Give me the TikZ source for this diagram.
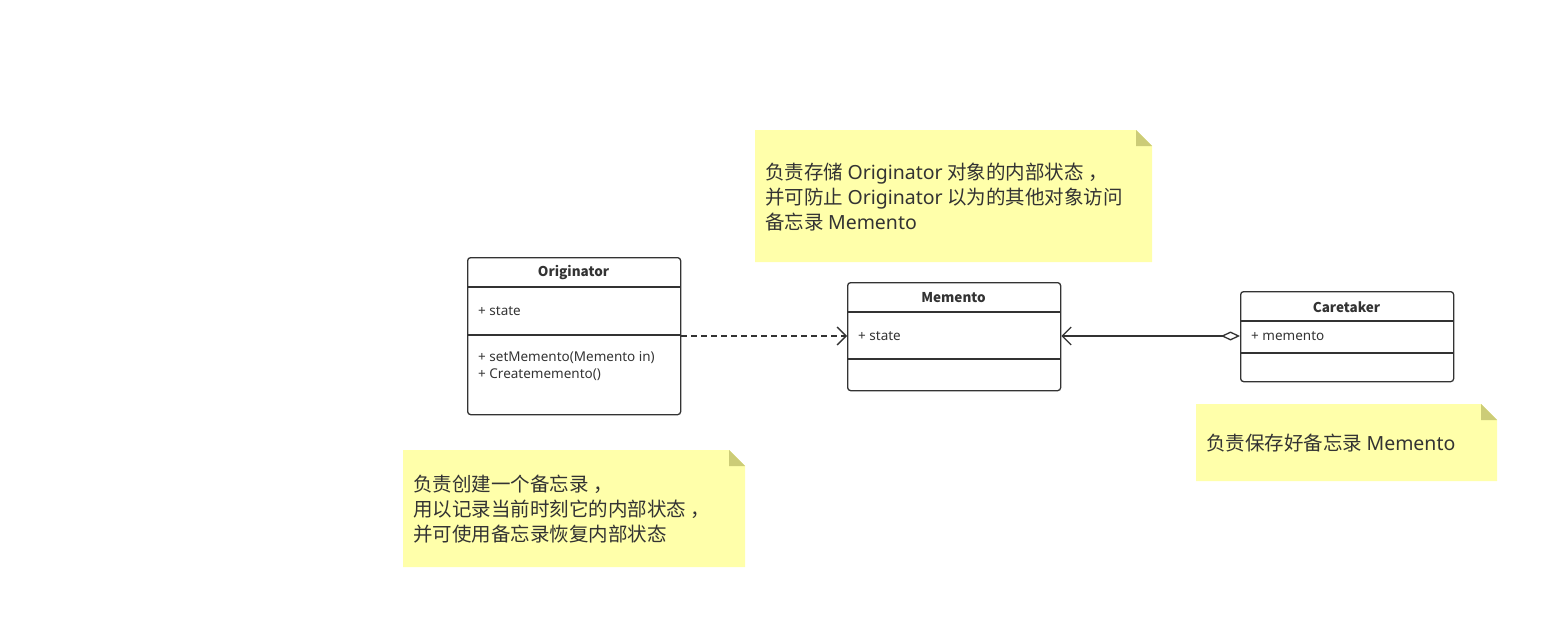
\documentclass[tikz,border=0pt]{standalone}
\usepackage{fontspec}
\setmainfont{Noto Sans CJK SC}
\newfontfamily\latinfont{Noto Sans}
\usetikzlibrary{arrows.meta,positioning}

\definecolor{umlLine}{HTML}{333333}
\definecolor{noteFill}{HTML}{FFFFAA}
\definecolor{noteFold}{HTML}{CCCC77}

\def\classWidth{213}
\def\classTitleHeight{30}
\def\memberIndent{11}
\def\noteFoldSize{16}

\tikzset{
    umlclass/.style = {draw = umlLine, line width = 1.3pt, rounded corners = 3pt,
        minimum width = \classWidth pt, anchor = north west, inner sep = 0pt},
    umlsep/.style = {draw = umlLine, line width = 1.3pt},
    umltitle/.style = {font = \bfseries\fontsize{13.5}{15}\selectfont, text = umlLine},
    umlmember/.style = {font = \latinfont\fontsize{13.5}{17}\selectfont, text = umlLine,
        anchor = west, align = left, inner sep = 0pt},
    notetext/.style = {font = \fontsize{19.5}{25}\selectfont, text = umlLine,
        anchor = west, align = left, inner sep = 0pt},
    depend/.style = {draw = umlLine, line width = 1.3pt, dash pattern = on 6pt off 4pt,
        -{Straight Barb[length = 9pt, width = 18pt]}},
    aggreg/.style = {draw = umlLine, line width = 1.3pt,
        {Diamond[open, length = 19pt, width = 9pt]}-{Straight Barb[length = 9pt, width = 18pt]}},
}

\begin{document}
\begin{tikzpicture}[x = 1pt, y = -1pt]
            \useasboundingbox (0,0) rectangle (1559,629);
            %% notes
            \fill [noteFill]
            (755,130) coordinate (noteA)
            -- ++({397-\noteFoldSize},0)
            -- ++(\noteFoldSize,\noteFoldSize)
            -- ++(0,{132-\noteFoldSize})
            -- ++(-397,0)
            -- cycle
            ;
            \fill [noteFold]
            (noteA) ++({397-\noteFoldSize},0)
            -- ++(0,\noteFoldSize)
            -- ++(\noteFoldSize,0)
            -- cycle
            ;
            \node [notetext] (noteAText) at (765,197)
            {负责存储 {\latinfont Originator} 对象的内部状态 ，\\
             并可防止 {\latinfont Originator} 以为的其他对象访问\\
             备忘录 {\latinfont Memento}};
            \fill [noteFill]
            (403,450) coordinate (noteB)
            -- ++({342-\noteFoldSize},0)
            -- ++(\noteFoldSize,\noteFoldSize)
            -- ++(0,{117-\noteFoldSize})
            -- ++(-342,0)
            -- cycle
            ;
            \fill [noteFold]
            (noteB) ++({342-\noteFoldSize},0)
            -- ++(0,\noteFoldSize)
            -- ++(\noteFoldSize,0)
            -- cycle
            ;
            \node [notetext] (noteBText) at (413,509)
            {负责创建一个备忘录 ，\\
             用以记录当前时刻它的内部状态 ，\\
             并可使用备忘录恢复内部状态};
            \fill [noteFill]
            (1196,404) coordinate (noteC)
            -- ++({301-\noteFoldSize},0)
            -- ++(\noteFoldSize,\noteFoldSize)
            -- ++(0,{77-\noteFoldSize})
            -- ++(-301,0)
            -- cycle
            ;
            \fill [noteFold]
            (noteC) ++({301-\noteFoldSize},0)
            -- ++(0,\noteFoldSize)
            -- ++(\noteFoldSize,0)
            -- cycle
            ;
            \node [notetext] (noteCText) at (1206,443) {负责保存好备忘录 {\latinfont Memento}};
            %% Originator
            \node [umlclass, minimum height = 157pt] (orig) at (467,257) {};
            \node [umltitle] (origName) at ({467+\classWidth/2},273) {Originator};
            \draw [umlsep]
            (orig.north west) ++(0,\classTitleHeight) -- ++(\classWidth,0)
            (orig.north west) ++(0,78) -- ++(\classWidth,0)
            ;
            \node [umlmember] (origAttr) at ({467+\memberIndent},311) {+ state};
            \node [umlmember] (origMeth) at ({467+\memberIndent},366.5)
            {+ setMemento(Memento in)\\+ Creatememento()};
            %% Memento
            \node [umlclass, minimum height = 108pt] (memento) at (847,282) {};
            \node [umltitle] (memName) at ({847+\classWidth/2},298) {Memento};
            \draw [umlsep]
            (memento.north west) ++(0,\classTitleHeight) -- ++(\classWidth,0)
            (memento.north west) ++(0,77) -- ++(\classWidth,0)
            ;
            \node [umlmember] (memAttr) at ({847+\memberIndent},336) {+ state};
            %% Caretaker
            \node [umlclass, minimum height = 90pt] (caretaker) at (1240,291) {};
            \node [umltitle] (careName) at ({1240+\classWidth/2},307) {Caretaker};
            \draw [umlsep]
            (caretaker.north west) ++(0,\classTitleHeight) -- ++(\classWidth,0)
            (caretaker.north west) ++(0,62) -- ++(\classWidth,0)
            ;
            \node [umlmember] (careAttr) at ({1240+\memberIndent},336) {+ memento};
            %% relations
            \draw [depend] (orig.east |- memAttr) -- (memento.west |- memAttr);
            \draw [aggreg] (caretaker.west |- careAttr) -- (memento.east |- careAttr);
\end{tikzpicture}
\end{document}
